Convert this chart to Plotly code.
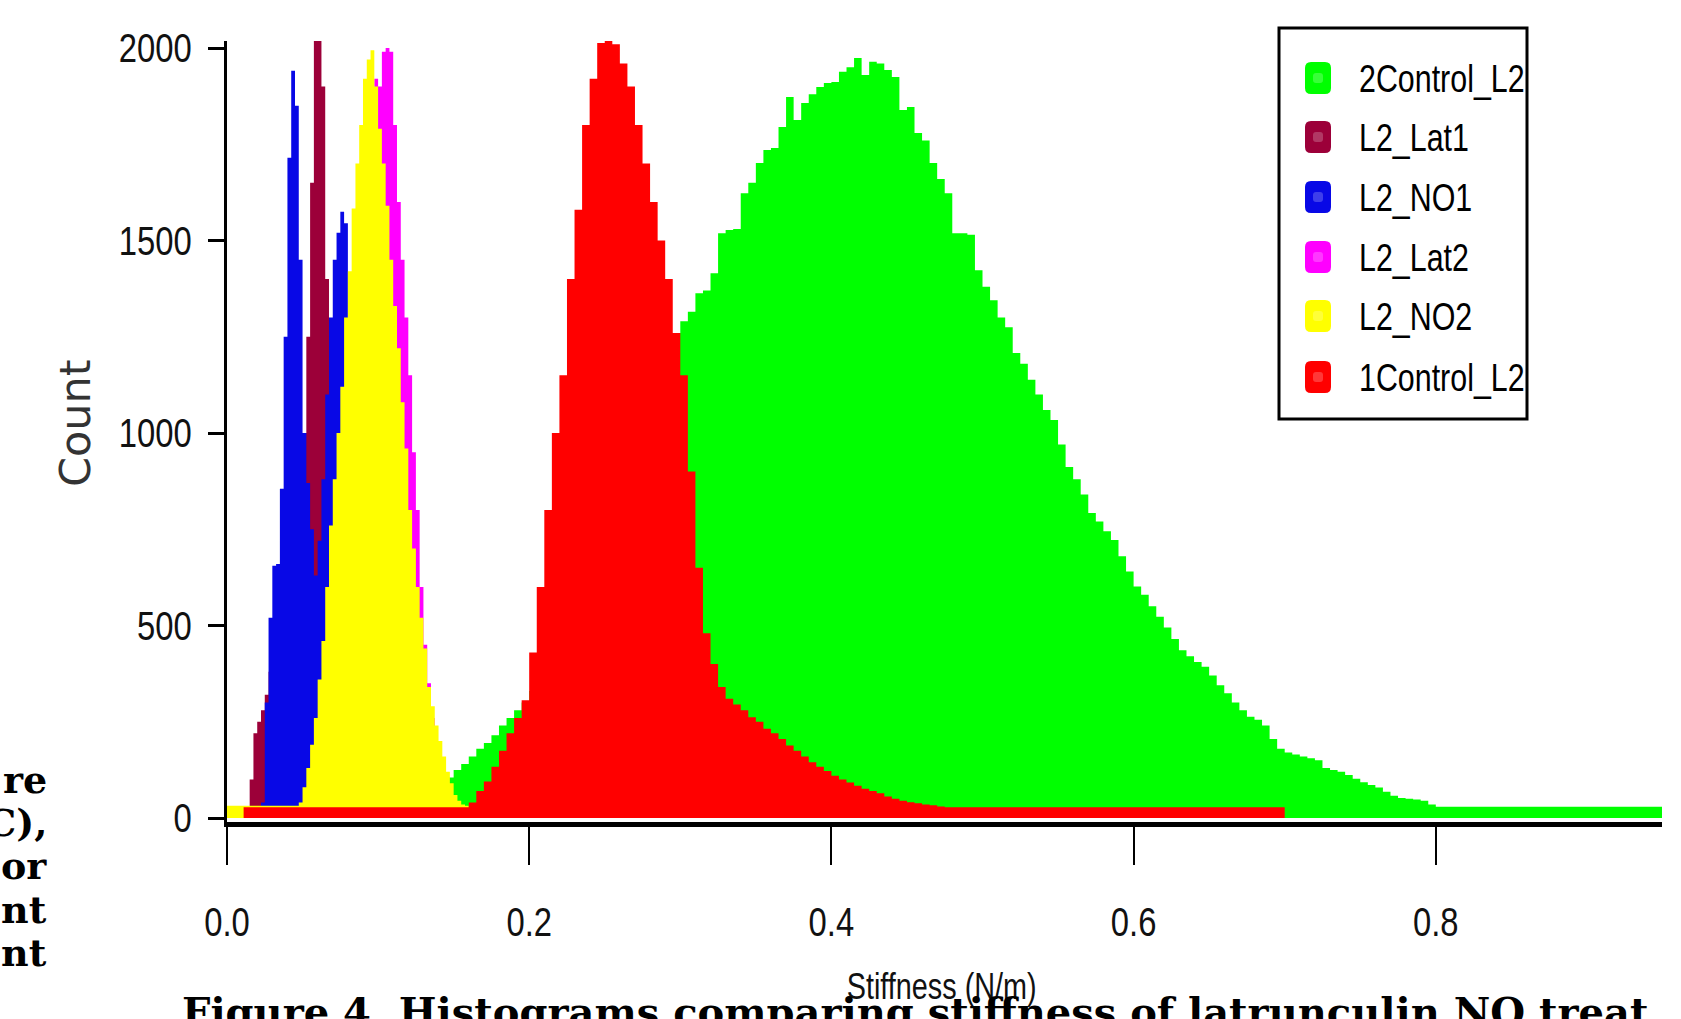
import plotly.graph_objects as go

# ---------------- data ----------------
series_names = ["2Control_L2", "L2_Lat1", "L2_NO1", "L2_Lat2", "L2_NO2", "1Control_L2"]
series_colors = ["#00ff00", "#9c0039", "#0808e6", "#ff00ff", "#ffff00", "#ff0000"]

x_tick_vals = [0.0, 0.2, 0.4, 0.6, 0.8]
x_tick_text = ["0.0", "0.2", "0.4", "0.6", "0.8"]
y_tick_vals = [0, 500, 1000, 1500, 2000]
y_tick_text = ["0", "500", "1000", "1500", "2000"]

# 2Control_L2 (green)
control2_bin_start = 0.120
control2_bin_width = 0.005
control2_counts = [
    30, 40, 55, 70, 85, 105, 125, 140, 160, 180,
    195, 215, 240, 260, 280, 300, 330, 360, 400, 440,
    490, 540, 590, 650, 710, 770, 830, 890, 950, 1000,
    1050, 1100, 1140, 1180, 1220, 1260, 1290, 1315, 1363, 1370,
    1415, 1519, 1527, 1530, 1623, 1650, 1701, 1735, 1740, 1795,
    1873, 1813, 1857, 1880, 1899, 1909, 1912, 1938, 1950, 1974,
    1930, 1964, 1960, 1943, 1925, 1839, 1847, 1779, 1760, 1701,
    1660, 1623, 1519, 1519, 1515, 1423, 1380, 1345, 1300, 1275,
    1208, 1180, 1138, 1100, 1060, 1034, 970, 912, 880, 840,
    792, 770, 745, 722, 680, 640, 601, 580, 550, 523,
    495, 465, 436, 420, 405, 393, 370, 345, 324, 300,
    280, 263, 255, 240, 205, 180, 170, 165, 160, 155,
    150, 130, 125, 120, 112, 102, 93, 86, 79, 68,
    58, 52, 50, 48, 45, 35,
]
control2_floor = (0.120, 0.950, 29)

# L2_Lat1 (maroon)
lat1_bin_start = 0.0125
lat1_bin_width = 0.0025
lat1_counts = [
    30, 100, 220, 250, 280, 320, 380, 450, 520, 600,
    680, 760, 840, 900, 950, 1000, 1250, 1650, 2030, 2020,
    1900, 1400, 1000, 700, 450, 260, 130, 60, 30,
]
lat1_floor = (0.0125, 0.085, 28)

# L2_NO1 (blue)
no1_bin_start = 0.0225
no1_bin_width = 0.0025
no1_counts = [
    40, 300, 520, 655, 660, 855, 1250, 1715, 1941, 1850,
    1450, 1000, 870, 750, 630, 720, 880, 1100, 1300, 1450,
    1520, 1575, 1545, 1200, 800, 450, 200, 80, 30,
]
no1_floor = (0.0225, 0.095, 28)

# L2_Lat2 (magenta)
lat2_bin_start = 0.0575
lat2_bin_width = 0.0025
lat2_counts = [
    40, 100, 180, 280, 400, 550, 700, 850, 1000, 1150,
    1300, 1450, 1580, 1700, 1800, 1870, 1920, 1900, 1990, 2000,
    1990, 1800, 1600, 1450, 1300, 1150, 950, 800, 600, 450,
    350, 260, 180, 110, 60, 30,
]
lat2_floor = (0.0575, 0.1475, 28)

# L2_NO2 (yellow)
no2_bin_start = 0.0475
no2_bin_width = 0.0025
no2_counts = [
    40, 80, 130, 190, 260, 360, 460, 600, 760, 880,
    1000, 1120, 1300, 1420, 1583, 1700, 1800, 1920, 1970, 1994,
    1900, 1790, 1700, 1590, 1450, 1330, 1220, 1080, 960, 800,
    700, 600, 520, 440, 340, 290, 240, 200, 160, 120,
    90, 60, 45, 35,
]
no2_floor = (0.0, 0.160, 32)

# 1Control_L2 (red)
control1_bin_start = 0.160
control1_bin_width = 0.005
control1_counts = [
    40, 70, 95, 133, 175, 220, 260, 306, 430, 600,
    800, 1000, 1150, 1400, 1580, 1800, 1920, 2013, 2040, 2010,
    1960, 1900, 1800, 1700, 1600, 1500, 1400, 1260, 1150, 900,
    650, 480, 400, 340, 310, 295, 280, 262, 250, 232,
    220, 205, 188, 175, 160, 145, 133, 122, 110, 100,
    92, 84, 76, 70, 64, 56, 50, 45, 41, 38,
    35, 33, 30,
]
control1_floor = (0.011, 0.700, 28)

histograms = [
    (control2_bin_start, control2_bin_width, control2_counts, control2_floor),
    (lat1_bin_start, lat1_bin_width, lat1_counts, lat1_floor),
    (no1_bin_start, no1_bin_width, no1_counts, no1_floor),
    (lat2_bin_start, lat2_bin_width, lat2_counts, lat2_floor),
    (no2_bin_start, no2_bin_width, no2_counts, no2_floor),
    (control1_bin_start, control1_bin_width, control1_counts, control1_floor),
]

x_title = "Stiffness (N/m)"
y_title = "Count"
side_fragments = ["re", "C),", "or", "nt", "nt"]
caption = "Figure 4. Histograms comparing stiffness of latrunculin NO treat"

# ---------------- figure ----------------
W, H = 1681, 1019
L, R, T, B = 227, 19, 41, 197
PW, PH = W - L - R, H - T - B


def px(x):
    return (x - L) / PW


def py(y):
    return (H - B - y) / PH


def step_xy(bin_start, bin_width, counts, floor):
    lo, hi, val = floor
    n = len(counts)
    xs = [lo] + [bin_start + i * bin_width for i in range(n + 1)] + [hi]
    ys = [val] + list(counts) + [val, val]
    return xs, ys


# condensed sans face (emulated below by squeezing Liberation Sans glyphs);
# the "Narrow L" variant keeps its left edge fixed after squeezing
NARROW = "Liberation Sans Narrow, Liberation Sans, Arial, sans-serif"
NARROW_L = "Liberation Sans Narrow L, Liberation Sans, Arial, sans-serif"

fig = go.Figure()
for name, color, (bs, bw, cnt, fl) in zip(series_names, series_colors, histograms):
    xs, ys = step_xy(bs, bw, cnt, fl)
    fig.add_trace(go.Scatter(
        x=xs, y=ys, name=name, mode="lines",
        line=dict(width=0, shape="hv", color=color),
        fill="tozeroy", fillcolor=color, showlegend=False,
    ))

shapes = []
annotations = []


def rounded(x0, x1, y0, y1, r):
    return (f"M {px(x0 + r)} {py(y0)} L {px(x1 - r)} {py(y0)} "
            f"Q {px(x1)} {py(y0)} {px(x1)} {py(y0 + r)} L {px(x1)} {py(y1 - r)} "
            f"Q {px(x1)} {py(y1)} {px(x1 - r)} {py(y1)} L {px(x0 + r)} {py(y1)} "
            f"Q {px(x0)} {py(y1)} {px(x0)} {py(y1 - r)} L {px(x0)} {py(y0 + r)} "
            f"Q {px(x0)} {py(y0)} {px(x0 + r)} {py(y0)} Z")


# legend box
shapes.append(dict(type="rect", xref="paper", yref="paper",
                   x0=px(1279), x1=px(1527), y0=py(28), y1=py(419),
                   line=dict(color="black", width=3), fillcolor="white", layer="above"))
row_y = [78, 137, 197, 257, 316, 377]
for name, color, yc in zip(series_names, series_colors, row_y):
    shapes.append(dict(type="path", xref="paper", yref="paper",
                       path=rounded(1305, 1331, yc - 16, yc + 16, 6),
                       fillcolor=color, line=dict(width=0), layer="above"))
    shapes.append(dict(type="path", xref="paper", yref="paper",
                       path=rounded(1313, 1323, yc - 5, yc + 5, 3),
                       fillcolor="rgba(255,255,255,0.22)", line=dict(width=0), layer="above"))
    annotations.append(dict(xref="paper", yref="paper", x=px(1357), y=py(yc + 1),
                            xanchor="left", yanchor="middle", showarrow=False,
                            text=name, font=dict(family=NARROW_L, size=38, color="black")))

# axis titles
annotations.append(dict(xref="paper", yref="paper", x=px(941), y=py(986),
                        xanchor="center", yanchor="middle", showarrow=False,
                        text=x_title, font=dict(family=NARROW, size=36, color="#111111")))
annotations.append(dict(xref="paper", yref="paper", x=px(75), y=py(423),
                        xanchor="center", yanchor="middle", showarrow=False, textangle=-90,
                        text=y_title, font=dict(family="DejaVu Sans", size=43, color="#333333")))

# cropped surrounding document text
frag_y = [779, 822, 866, 909, 952]
for t, yc in zip(side_fragments, frag_y):
    annotations.append(dict(xref="paper", yref="paper", x=px(49), y=py(yc),
                            xanchor="right", yanchor="middle", showarrow=False,
                            text=f"<b>{t}</b>", font=dict(family="DejaVu Serif", size=38, color="black")))
annotations.append(dict(xref="paper", yref="paper", x=px(180), y=py(1012),
                        xanchor="left", yanchor="middle", showarrow=False,
                        text=f"<b>{caption}</b>", font=dict(family="DejaVu Serif", size=40, color="black")))

fig.update_layout(
    width=W, height=H,
    margin=dict(l=L, r=R, t=T, b=B, pad=0),
    paper_bgcolor="white", plot_bgcolor="white",
    showlegend=False,
    shapes=shapes, annotations=annotations,
    xaxis=dict(range=[0.0, (W - R - L) / 1511.0], tickmode="array",
               tickvals=x_tick_vals, ticktext=x_tick_text,
               showgrid=False, zeroline=False, showline=True, linecolor="black", linewidth=5,
               ticks="outside", ticklen=38, tickwidth=2, tickcolor="black",
               ticklabelstandoff=22,
               tickfont=dict(family=NARROW, size=41, color="#111111")),
    yaxis=dict(range=[-4 / 0.385, 2000 + 7 / 0.385], tickmode="array",
               tickvals=y_tick_vals, ticktext=y_tick_text,
               showgrid=False, zeroline=False, showline=True, linecolor="black", linewidth=3,
               ticks="outside", ticklen=16, tickwidth=3, tickcolor="black",
               ticklabelstandoff=8,
               tickfont=dict(family=NARROW, size=41, color="#111111")),
)

condense_js = """
document.body.style.margin = '0';
document.body.style.overflow = 'hidden';
document.querySelectorAll('text').forEach(function (t) {
  var ff = t.style.fontFamily || '';
  if (ff.indexOf('Narrow') < 0) { return; }
  var w = t.getComputedTextLength();
  if (!(w > 0)) { return; }
  var b0 = t.getBBox();
  t.setAttribute('textLength', (w * 0.80).toFixed(2));
  t.setAttribute('lengthAdjust', 'spacingAndGlyphs');
  if (ff.indexOf('Narrow L') >= 0) {
    var b1 = t.getBBox();
    var x = parseFloat(t.getAttribute('x') || '0');
    t.setAttribute('x', (x + (b0.x - b1.x)).toFixed(2));
  }
});
"""

fig.write_html("out.html", config={"displayModeBar": False}, post_script=condense_js)
